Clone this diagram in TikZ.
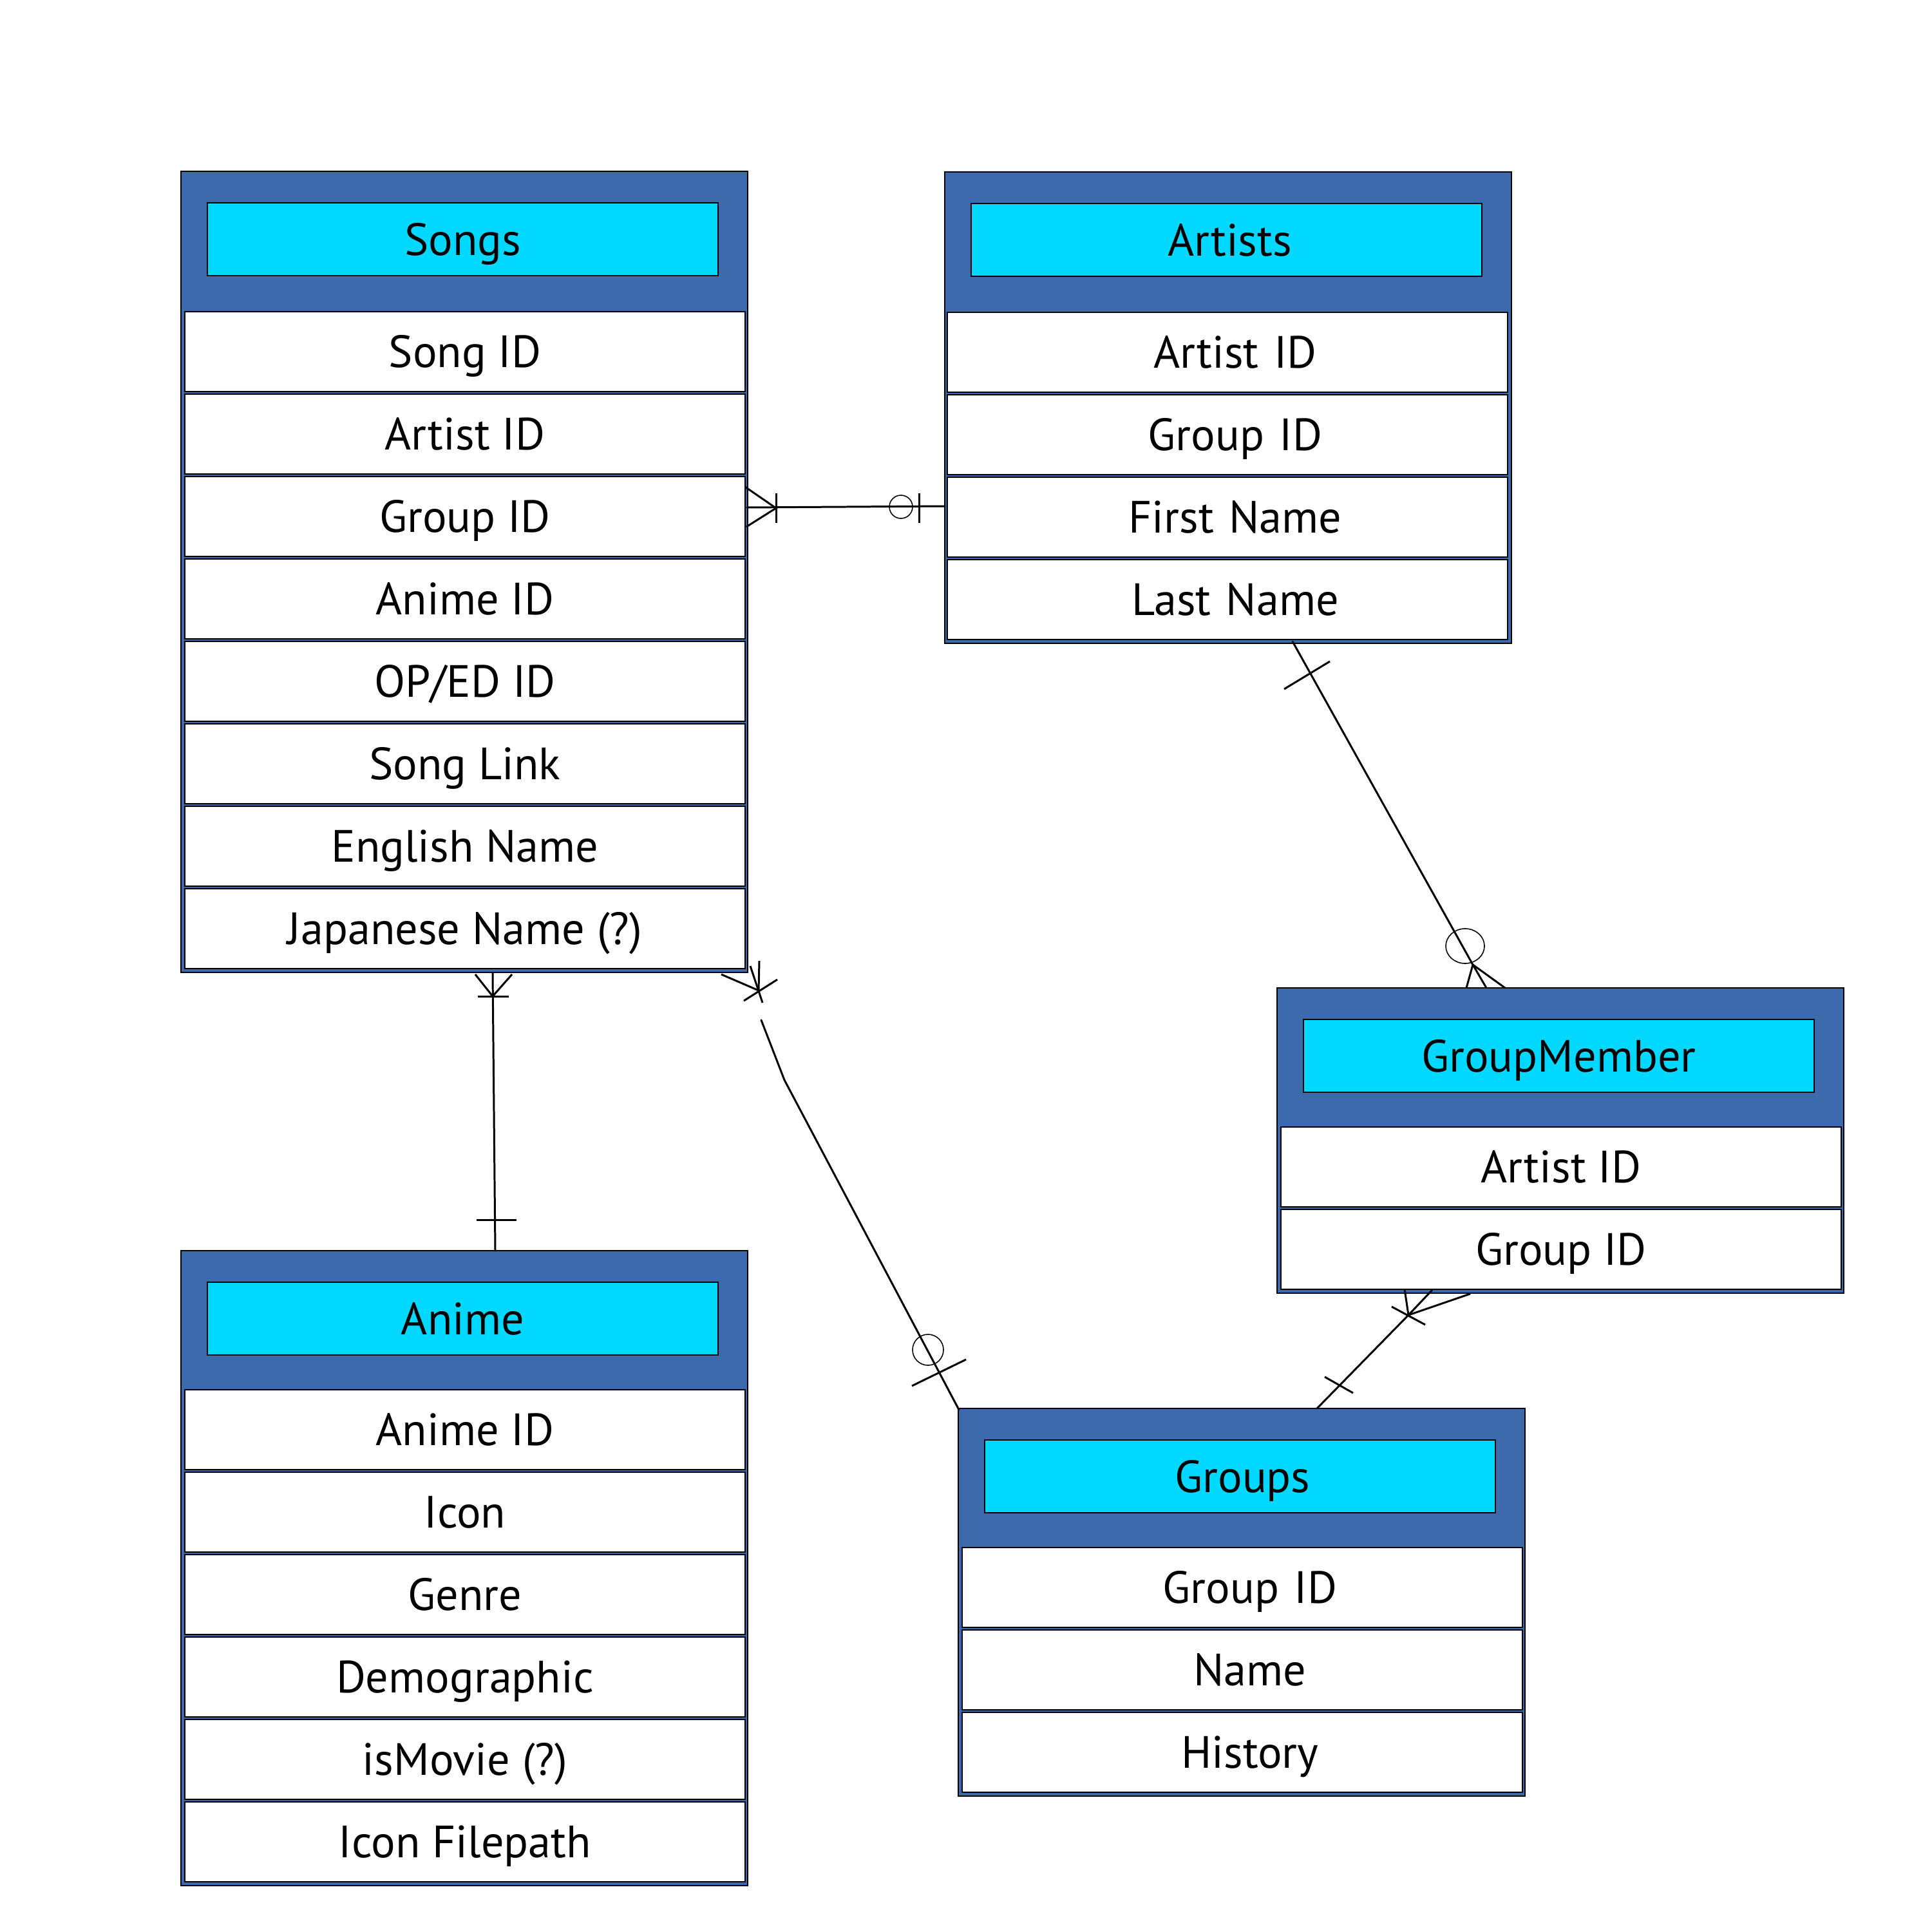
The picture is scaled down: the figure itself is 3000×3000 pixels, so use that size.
\documentclass[tikz,border=0pt]{standalone}
\usepackage{fontspec}
\setmainfont{PT Sans}
\usetikzlibrary{calc}
\definecolor{tblue}{RGB}{61,106,170}
\definecolor{tcyan}{RGB}{0,216,255}
\tikzset{
  tbl/.style={draw=black, line width=0.6pt, fill=tblue, inner sep=0pt, outer sep=0pt, anchor=north west, minimum width=88.0mm},
  hdr/.style={draw=black, line width=0.5pt, fill=tcyan, inner sep=0pt, outer sep=0pt, anchor=north west, minimum width=79.3mm, minimum height=11.3mm, font=\fontsize{20}{24}\selectfont, text height=14pt, text depth=0pt},
  fld/.style={draw=black, line width=0.5pt, fill=white, inner sep=0pt, outer sep=0pt, anchor=north west, minimum width=87.0mm, minimum height=12.4mm, font=\fontsize{20}{24}\selectfont, text height=14pt, text depth=0pt},
  shifted/.style={xshift=1.2mm},
  conn/.style={line width=0.85pt, black, line cap=round},
  erbar/.style={line width=0.85pt, black},
  ercirc/.style={line width=0.45pt, black}
}
\begin{document}
\begin{tikzpicture}[x=0.1mm,y=-0.1mm]
\useasboundingbox (0,0) rectangle (3000,3000);
% ---------- Songs ----------
\node[tbl, minimum height=124.4mm] (songs) at (281,266) {};
\node[hdr] (songsT) at (322,315) {Songs};
\foreach \t [count=\i] in {Song ID,Artist ID,Group ID,Anime ID,OP/ED ID,Song Link,English Name,Japanese Name (?)}
  \node[fld] (songs-\i) at (287,{484+128*(\i-1)}) {\t};
% ---------- Artists ----------
\node[tbl, minimum height=73.2mm] (artists) at (1467,267) {};
\node[hdr, text width=79.3mm, align=center] (artistsT) at (1508,316) {\hspace*{1.0mm}Artists};
\foreach \t [count=\i] in {Artist ID,Group ID,First Name,Last Name}
  \node[fld, text width=87.0mm, align=center] (artists-\i) at (1471,{485+128*(\i-1)}) {\hspace*{2.4mm}\t};
% ---------- GroupMember ----------
\node[tbl, minimum height=47.4mm] (gm) at (1983,1534) {};
\node[hdr] (gmT) at (2024,1583) {GroupMember};
\foreach \t [count=\i] in {Artist ID,Group ID}
  \node[fld] (gm-\i) at (1989,{1750+128*(\i-1)}) {\t};
% ---------- Anime ----------
\node[tbl, minimum height=98.6mm] (anime) at (281,1942) {};
\node[hdr] (animeT) at (322,1991) {Anime};
\foreach \t [count=\i] in {Anime ID,Icon,Genre,Demographic,isMovie (?),Icon Filepath}
  \node[fld] (anime-\i) at (287,{2158+128*(\i-1)}) {\t};
% ---------- Groups ----------
\node[tbl, minimum height=60.2mm] (groups) at (1488,2187) {};
\node[hdr, text width=79.3mm, align=center] (groupsT) at (1529,2236) {\hspace*{0.8mm}Groups};
\foreach \t [count=\i] in {Group ID,Name,History}
  \node[fld, text width=87.0mm, align=center] (groups-\i) at (1494,{2403+128*(\i-1)}) {\hspace*{2.4mm}\t};

% ---------- Connector: Songs -- Artists ----------
\coordinate (c1s) at (1160,788);
\coordinate (c1a) at (1467,786);
\draw[conn] (c1s) -- (c1a);
\draw[erbar] (1157,756) -- (1205,789) -- (1159,818);
\draw[erbar] (1205,766) -- (1205,812);
\draw[ercirc] (1399,787) circle [radius=18];
\draw[erbar] (1427,766) -- (1427,812);

% ---------- Connector: Songs -- Anime ----------
\coordinate (c2s) at (765,1511);
\coordinate (c2a) at (769,1942);
\draw[conn] (c2s) -- (c2a);
\draw[erbar] (738,1513) -- (765,1547) -- (795,1513);
\draw[erbar] (742,1547) -- (790,1547);
\draw[erbar] (740,1894) -- (802,1894);

% ---------- Connector: Songs -- Groups ----------
\coordinate (c3s) at (1178,1538);
\coordinate (c3g) at (1489,2189);
\draw[erbar] (1179,1492) -- (c3s);
\draw[erbar] (1165,1500) -- (1184,1557);
\draw[erbar] (1120,1513) -- (c3s);
\draw[erbar] (1155,1554) -- (1207,1521);
\draw[conn] (1182,1584) -- (1218,1677) -- (c3g);
\draw[ercirc] (1441,2096) circle [radius=24];
\draw[erbar] (1416,2152) -- (1500,2111);

% ---------- Connector: Artists -- GroupMember ----------
\coordinate (c4a) at (2007,996);
\coordinate (c4g) at (2287,1498);
\draw[conn] (c4a) -- (c4g);
\draw[erbar] (1994,1070) -- (2065,1027);
\draw[ercirc] (2275,1469) ellipse [x radius=30, y radius=27];
\draw[erbar] (2277,1534) -- (c4g) -- (2337,1534);
\draw[erbar] (c4g) -- (2308,1534);

% ---------- Connector: Groups -- GroupMember ----------
\coordinate (c5g) at (2045,2187);
\coordinate (c5m) at (2187,2042);
\draw[conn] (c5g) -- (c5m);
\draw[erbar] (2057,2138) -- (2101,2163);
\draw[erbar] (2181,2002) -- (c5m) -- (2283,2009);
\draw[erbar] (c5m) -- (2224,2003);
\draw[erbar] (2161,2029) -- (2213,2057);
\end{tikzpicture}
\end{document}
